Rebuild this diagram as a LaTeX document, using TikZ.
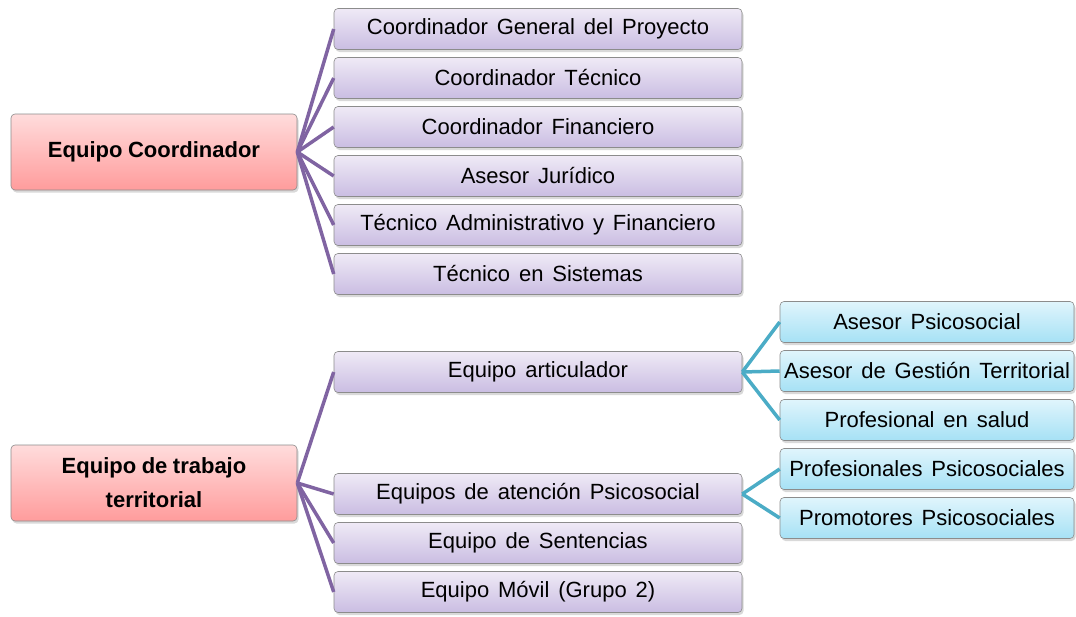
\documentclass[tikz,border=0pt]{standalone}
\usepackage{fontspec}
\setmainfont[WordSpace=1.45]{Liberation Sans}
\usetikzlibrary{shadows}

\definecolor{leadtop}{HTML}{FFDCDC}
\definecolor{leadbot}{HTML}{FF9C9C}
\definecolor{memtop}{HTML}{EFEAF6}
\definecolor{membot}{HTML}{CABDE2}
\definecolor{subtop}{HTML}{E0F5FC}
\definecolor{subbot}{HTML}{A6E1F5}
\definecolor{plink}{HTML}{8064A2}
\definecolor{blink}{HTML}{4BACC6}

\newcommand\leadfont{\fontsize{22}{34}\selectfont\bfseries\setlength\spaceskip{0.25em}}

\tikzset{
  box/.style={draw=black!45, line width=0.6pt, rounded corners=4pt, inner sep=0pt,
    align=center, drop shadow={shadow xshift=1.5pt, shadow yshift=-2.5pt, opacity=0.3}},
  lead/.style={box, top color=leadtop, bottom color=leadbot, minimum width=286pt,
    minimum height=76pt, font=\leadfont},
  member/.style={box, top color=memtop, bottom color=membot, minimum width=408pt,
    minimum height=41pt, font=\fontsize{22}{26}\selectfont},
  sub/.style={box, top color=subtop, bottom color=subbot, minimum width=294pt,
    minimum height=41pt, font=\fontsize{22}{26}\selectfont},
  purpleline/.style={draw=plink, line width=3.5pt},
  blueline/.style={draw=blink, line width=3.5pt}
}

\begin{document}
\begin{tikzpicture}[x=1pt,y=-1pt]
  \useasboundingbox (0,0) rectangle (1076,616);

  % equipo coordinador
  \node[lead] (coord) at (154,152) {Equipo Coordinador};
  \foreach \lab [count=\i] in {Coordinador General del Proyecto,Coordinador Técnico,
      Coordinador Financiero,Asesor Jurídico,Técnico Administrativo y Financiero,
      Técnico en Sistemas}{
    \node[member] (c\i) at (538,{29+49*(\i-1)}) {\lab};
    \draw[purpleline] (coord.east) -- (c\i.west);
  }

  % equipo de trabajo territorial
  \node[lead] (terr) at (154,483) {Equipo de trabajo\\territorial};
  \foreach \y/\lab [count=\i] in {372/Equipo articulador,494/Equipos de atención Psicosocial,
      543/Equipo de Sentencias,592/Equipo Móvil (Grupo 2)}{
    \node[member] (t\i) at (538,\y) {\lab};
    \draw[purpleline] (terr.east) -- (t\i.west);
  }

  % sub equipos
  \foreach \lab [count=\i] in {Asesor Psicosocial,Asesor de Gestión Territorial,
      Profesional en salud}{
    \node[sub] (a\i) at (927,{322+49*(\i-1)}) {\lab};
    \draw[blueline] (t1.east) -- (a\i.west);
  }
  \foreach \lab [count=\i] in {Profesionales Psicosociales,Promotores Psicosociales}{
    \node[sub] (p\i) at (927,{469+49*(\i-1)}) {\lab};
    \draw[blueline] (t2.east) -- (p\i.west);
  }
\end{tikzpicture}
\end{document}
